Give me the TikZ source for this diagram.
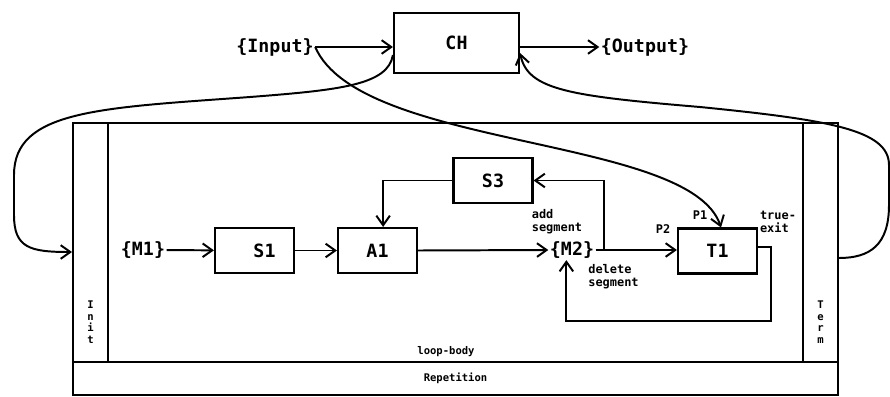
\documentclass[tikz,border=0pt]{standalone}
\usepackage{fontspec}
\setmonofont{DejaVu Sans Mono}
\usetikzlibrary{arrows.meta,calc,positioning}
\definecolor{SchemeInk}{HTML}{000000}
\tikzset{
  scheme/box/.style={
    draw=SchemeInk, line width=1.5pt, fill=white, inner sep=0pt,
    minimum width=1.975cm, minimum height=1.125cm,
    font=\ttfamily\bfseries\fontsize{13}{13}\selectfont
  },
  scheme/frame/.style={draw=SchemeInk, line width=1.4pt, inner sep=0pt},
  scheme/port/.style={inner sep=1pt, font=\ttfamily\bfseries\fontsize{13}{13}\selectfont},
  scheme/arrow/.style={
    -{Straight Barb[length=2.4mm,width=3.4mm]}, line width=1.4pt, draw=SchemeInk
  },
  scheme/note/.style={font=\ttfamily\bfseries\fontsize{8.5}{9.5}\selectfont, align=left, inner sep=0pt},
  scheme/tag/.style={font=\ttfamily\bfseries\fontsize{7.5}{8.2}\selectfont, align=center, inner sep=0pt}
}
\begin{document}
\begin{tikzpicture}[x=0.025cm, y=-0.025cm]
  \useasboundingbox (0,0) rectangle (890,396);
  \node[scheme/box, minimum width=3.125cm, minimum height=1.5cm] (ch) at (456.5,43) {CH};
  \node[scheme/port] (input) at (275,47) {\{Input\}};
  \node[scheme/port] (output) at (645,47) {\{Output\}};
  \node[scheme/frame, scheme/tag, minimum width=19.125cm, minimum height=0.825cm] (rep) at (455.5,378.5) {Repetition};
  \node[scheme/frame, minimum width=17.375cm, minimum height=5.975cm] (body) at (455.5,242.5) {};
  \foreach \name/\x in {init/90.5,term/820.5}
    \node[scheme/frame, minimum width=0.875cm, minimum height=5.975cm] (\name) at (\x,242.5) {};
  \node[scheme/tag] (initlab) at (90.5,322) {I\\n\\i\\t};
  \node[scheme/tag] (termlab) at (820.5,322) {T\\e\\r\\m};
  \node[scheme/tag] (bodylab) at (446,352) {loop-body};
  \node[scheme/port] (m1) at (143,250) {\{M1\}};
  \node[scheme/box] (s1) at (254.5,250.5) {\hspace*{5mm}S1};
  \node[scheme/box] (a1) at (377.5,250.5) {A1};
  \node[scheme/box] (s3) at (493,180.5) {S3};
  \node[scheme/port] (m2) at (572,250) {\{M2\}};
  \node[scheme/box] (t1) at (717.5,251) {T1};
  \node[scheme/note] (addlab) at (557,222) {add\\segment};
  \node[scheme/note] (dellab) at (613.5,277) {delete\\segment};
  \node[scheme/note] (p1lab) at (700,215) {P1};
  \node[scheme/note] (p2lab) at (663,229) {P2};
  \node[scheme/note] (exitlab) at (778,222) {true-\\exit};
  \draw[scheme/arrow] (input.east) -- (ch.west |- input.east);
  \draw[scheme/arrow] (ch.east |- output.west) -- (output.west);
  \draw[scheme/arrow] ([yshift=-0.3cm]ch.west) .. controls (388,85) and (340,90) .. (250,97)
    .. controls (100,108) and (14,110) .. (14,175) -- (14,215)
    .. controls (14,248) and (30,252) .. (init.west |- 0,252);
  \draw[scheme/arrow] (term.east |- 0,258) .. controls (870,258) and (889,245) .. (889,205)
    -- (889,165) .. controls (889,130) and (830,120) .. (700,107)
    .. controls (570,96) and (528,90) .. ([yshift=-0.25cm]ch.east);
  \draw[scheme/arrow] (input.east) .. controls (360,150) and (690,135) .. ([xshift=2.5pt]t1.north);
  \draw[scheme/arrow] (m1) -- (s1);
  \draw[scheme/arrow] (s1) -- (a1);
  \draw[scheme/arrow] (a1.east) -- (m2.west);
  \draw[scheme/arrow] (m2.east) -- (t1.west |- m2.east);
  \draw[scheme/arrow] (m2.east) ++(8,0) |- (s3.east);
  \draw[scheme/arrow] (s3.west) -| ([xshift=4pt]a1.north);
  \draw[scheme/arrow] ([yshift=0.1cm]t1.east) -| ++(13,74) -| ([xshift=-4pt]m2.south);
\end{tikzpicture}
\end{document}
